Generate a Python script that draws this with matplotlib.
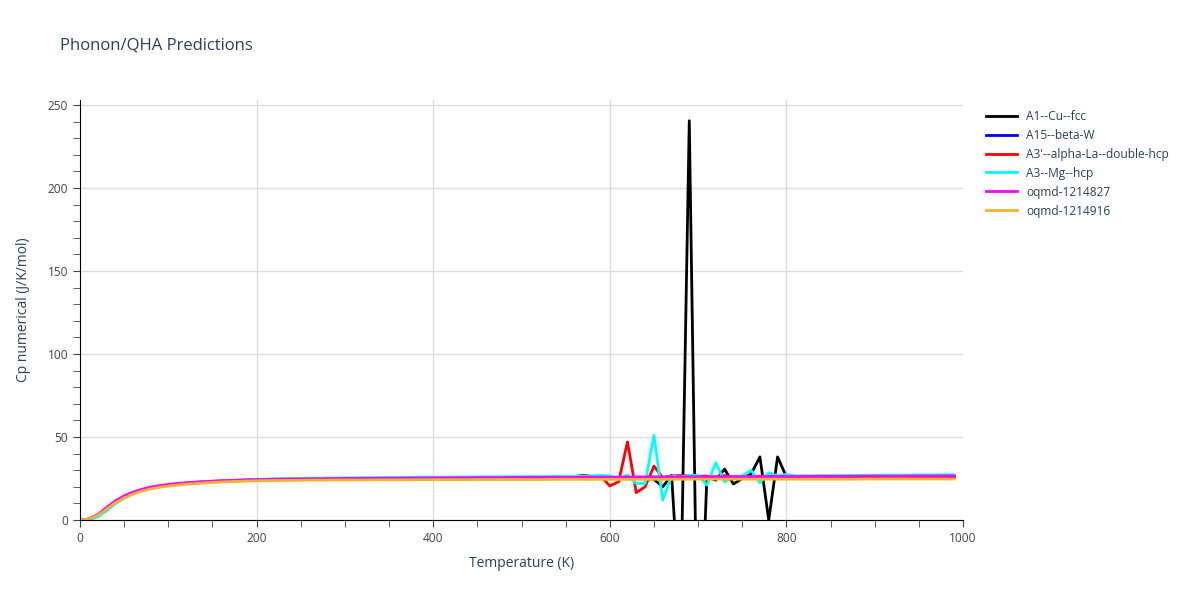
import numpy as np
import matplotlib.pyplot as plt
from matplotlib.ticker import MultipleLocator

plt.rcParams['font.family'] = ['Open Sans', 'DejaVu Sans']

temps = list(range(0, 1000, 10))

cu_fcc = [0, 0.4, 2.6, 6.6, 10.6, 13.7, 16.1, 17.9, 19.2, 20.2, 20.9,
          21.5, 22.0, 22.4, 22.7, 23.0, 23.3, 23.5, 23.7, 23.9, 24.0,
          24.1, 24.2, 24.3, 24.4, 24.4, 24.5, 24.5, 24.6, 24.6, 24.7,
          24.7, 24.7, 24.8, 24.8, 24.8, 24.9, 24.9, 24.9, 25.0, 25.0,
          25.0, 25.0, 25.1, 25.1, 25.1, 25.1, 25.2, 25.2, 25.2, 25.2,
          25.2, 25.3, 25.3, 25.3, 25.3, 25.3, 25.4, 25.4, 25.4, 25.5,
          25.6, 25.0, 25.8, 25.2, 24.5, 20.0, 27.0, -60.0, 240.5, -110.0,
          26.0, 24.0, 30.7, 21.7, 25.0, 27.7, 38.0, 0.0, 38.0, 26.0,
          25.6, 25.5, 25.6, 25.5, 25.6, 25.5, 25.6, 25.6, 25.5, 25.6,
          25.6, 25.6, 25.5, 25.6, 25.6, 25.6, 25.6, 25.6, 25.6]

beta_w = [0, 0.4, 2.7, 6.8, 10.8, 13.9, 16.3, 18.0, 19.3, 20.3, 21.0,
          21.6, 22.1, 22.5, 22.8, 23.1, 23.4, 23.6, 23.8, 24.0, 24.1,
          24.3, 24.4, 24.5, 24.6, 24.7, 24.7, 24.8, 24.8, 24.9, 24.9,
          25.0, 25.0, 25.0, 25.1, 25.1, 25.1, 25.2, 25.2, 25.2, 25.3,
          25.3, 25.3, 25.3, 25.4, 25.4, 25.4, 25.4, 25.5, 25.5, 25.5,
          25.5, 25.5, 25.6, 25.6, 25.6, 25.6, 25.6, 25.7, 25.7, 25.7,
          25.7, 25.7, 25.7, 25.8, 25.8, 25.8, 25.8, 25.8, 25.8, 25.8,
          25.9, 25.9, 25.9, 25.9, 25.9, 25.9, 25.9, 26.0, 26.0, 26.0,
          26.0, 26.0, 26.0, 26.0, 26.0, 26.1, 26.1, 26.1, 26.1, 26.1,
          26.1, 26.1, 26.1, 26.2, 26.2, 26.2, 26.2, 26.2, 26.2]

alpha_la = [0, 0.5, 2.8, 6.9, 10.9, 14.0, 16.4, 18.1, 19.4, 20.4, 21.1,
            21.7, 22.1, 22.5, 22.9, 23.2, 23.4, 23.6, 23.8, 24.0, 24.1,
            24.2, 24.3, 24.4, 24.5, 24.5, 24.6, 24.7, 24.7, 24.8, 24.8,
            24.9, 24.9, 25.0, 25.0, 25.0, 25.1, 25.1, 25.1, 25.2, 25.2,
            25.2, 25.3, 25.3, 25.3, 25.4, 25.4, 25.4, 25.4, 25.5, 25.5,
            25.5, 25.5, 25.6, 25.6, 25.8, 26.2, 27.0, 26.3, 26.5, 20.5,
            23.0, 47.0, 16.5, 20.0, 32.5, 25.5, 26.5, 26.8, 26.5, 26.3,
            26.5, 25.5, 26.8, 25.8, 26.2, 26.0, 26.4, 26.1, 26.0, 25.9,
            25.8, 25.8, 25.9, 25.8, 25.9, 25.8, 25.9, 25.9, 25.8, 25.9,
            25.9, 25.9, 25.9, 26.0, 25.9, 26.0, 26.0, 26.0, 26.0]

mg_hcp = [0, 0.2, 1.9, 5.6, 9.8, 13.1, 15.7, 17.6, 19.0, 20.1, 20.9,
          21.6, 22.1, 22.6, 23.0, 23.3, 23.6, 23.9, 24.1, 24.3, 24.5,
          24.6, 24.8, 24.9, 25.0, 25.1, 25.2, 25.2, 25.3, 25.3, 25.4,
          25.4, 25.5, 25.5, 25.6, 25.6, 25.6, 25.7, 25.7, 25.8, 25.8,
          25.8, 25.9, 25.9, 25.9, 26.0, 26.0, 26.0, 26.1, 26.1, 26.1,
          26.2, 26.2, 26.2, 26.3, 26.3, 26.3, 26.4, 26.4, 27.0, 26.5,
          25.0, 27.0, 22.0, 22.0, 51.0, 12.0, 26.5, 26.0, 26.8, 27.0,
          21.0, 34.5, 23.0, 26.5, 26.5, 30.0, 22.5, 28.5, 26.5, 27.5,
          26.6, 26.7, 26.6, 26.8, 26.7, 26.8, 26.9, 26.8, 27.0, 26.9,
          27.0, 27.1, 27.0, 27.1, 27.2, 27.1, 27.2, 27.3, 27.3]

oqmd_827 = [0, 0.6, 3.2, 7.5, 11.5, 14.5, 16.8, 18.5, 19.8, 20.7, 21.4,
            22.0, 22.4, 22.8, 23.1, 23.4, 23.6, 23.8, 24.0, 24.2, 24.3,
            24.4, 24.5, 24.6, 24.7, 24.7, 24.8, 24.8, 24.9, 24.9, 25.0,
            25.0, 25.1, 25.1, 25.1, 25.2, 25.2, 25.2, 25.3, 25.3, 25.3,
            25.4, 25.4, 25.4, 25.4, 25.5, 25.5, 25.5, 25.5, 25.6, 25.6,
            25.6, 25.6, 25.7, 25.7, 25.7, 25.7, 25.8, 25.8, 25.8, 25.8,
            25.8, 25.9, 25.9, 25.9, 25.9, 25.9, 26.0, 26.0, 26.0, 26.0,
            26.0, 26.1, 26.1, 26.1, 26.1, 26.1, 26.2, 26.2, 26.2, 26.2,
            26.2, 26.2, 26.3, 26.3, 26.3, 26.3, 26.3, 26.3, 26.4, 26.4,
            26.4, 26.4, 26.4, 26.5, 26.5, 26.5, 26.5, 26.5, 26.6]

oqmd_916 = [0, 0.5, 2.7, 6.5, 10.3, 13.3, 15.6, 17.4, 18.7, 19.7, 20.4,
            21.0, 21.5, 21.9, 22.3, 22.6, 22.9, 23.1, 23.3, 23.5, 23.6,
            23.7, 23.8, 23.8, 23.9, 23.9, 24.0, 24.0, 24.0, 24.1, 24.1,
            24.1, 24.1, 24.2, 24.2, 24.2, 24.2, 24.2, 24.3, 24.3, 24.3,
            24.3, 24.3, 24.3, 24.3, 24.4, 24.4, 24.4, 24.4, 24.4, 24.4,
            24.4, 24.4, 24.4, 24.5, 24.5, 24.5, 24.5, 24.5, 24.5, 24.5,
            24.5, 24.5, 24.5, 24.5, 24.5, 24.5, 24.5, 24.6, 24.6, 24.6,
            24.6, 24.6, 24.6, 24.6, 24.6, 24.6, 24.6, 24.6, 24.6, 24.6,
            24.6, 24.6, 24.6, 24.6, 24.6, 24.6, 24.6, 24.6, 24.7, 24.7,
            24.7, 24.7, 24.7, 24.7, 24.7, 24.7, 24.7, 24.7, 24.7]

names = ["A1--Cu--fcc", "A15--beta-W", "A3'--alpha-La--double-hcp",
         "A3--Mg--hcp", "oqmd-1214827", "oqmd-1214916"]
series = [cu_fcc, beta_w, alpha_la, mg_hcp, oqmd_827, oqmd_916]
colors = ["black", "blue", "red", "cyan", "magenta", "#f0b429"]

txt = '#2a3f5f'
fig = plt.figure(figsize=(12, 6), dpi=100)
ax = fig.add_axes([80/1200, 80/600, 883/1200, 420/600])

for name, vals, c in zip(names, series, colors):
    ax.plot(temps, vals, color=c, lw=2, label=name)

ax.set_xlim(0, 1000)
ax.set_ylim(0, 253)
ax.xaxis.set_major_locator(MultipleLocator(200))
ax.xaxis.set_minor_locator(MultipleLocator(50))
ax.yaxis.set_major_locator(MultipleLocator(50))
ax.yaxis.set_minor_locator(MultipleLocator(10))
ax.grid(True, which='major', color='#dddddd', lw=1)
ax.set_axisbelow(True)
# no gridline on the right edge (x=1000)
for gl, xv in zip(ax.get_xgridlines(), ax.get_xticks()):
    if xv >= 1000 or xv <= 0:
        gl.set_visible(False)
for s in ['top', 'right']:
    ax.spines[s].set_visible(False)
for s in ['left', 'bottom']:
    ax.spines[s].set_color('black')
ax.tick_params(which='both', direction='out', colors='#444444', labelsize=8.6, labelcolor='#444444')
ax.tick_params(which='major', length=5)
ax.tick_params(which='minor', length=5)

ax.set_xlabel("Temperature (K)", fontsize=10, color=txt, labelpad=8)
ax.set_ylabel("Cp numerical (J/K/mol)", fontsize=10, color=txt, labelpad=12)
fig.text(60/1200, 1 - 45/600, "Phonon/QHA Predictions", fontsize=12, color=txt, va='center')

fig.legend(loc='upper left', bbox_to_anchor=(975/1200, 1 - 99/600), frameon=False,
           fontsize=8.6, handlelength=2.6, labelspacing=0.5, labelcolor=txt)

fig.savefig("out.png", dpi=100)
